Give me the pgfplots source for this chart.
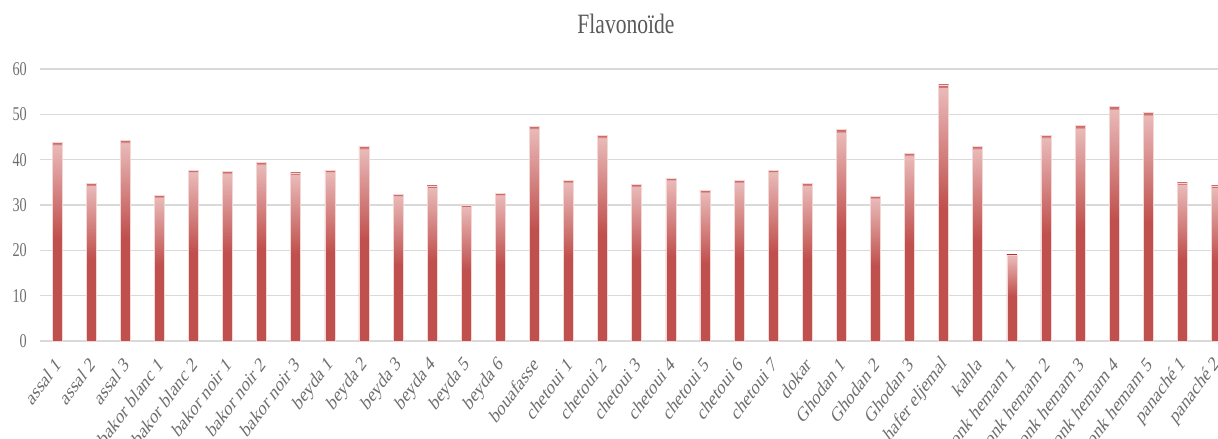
\documentclass[border=0pt]{standalone}
\usepackage{fontspec}
\setmainfont{Liberation Serif}
\usepackage{pgfplots}
\pgfplotsset{compat=1.18}

\definecolor{barred}{RGB}{192,80,77}
\definecolor{barpink}{RGB}{233,186,185}
\definecolor{barcap}{RGB}{205,108,106}
\definecolor{baredge}{RGB}{244,214,213}
\definecolor{gridgray}{RGB}{217,217,217}
\definecolor{titlegray}{RGB}{89,89,89}
\definecolor{tickgray}{RGB}{110,110,110}

% solid red in the lower half of each bar, fading to pale pink, thin darker cap on top
\pgfdeclareverticalshading{barshade}{100bp}{%
  color(0bp)=(barred); color(25bp)=(barred); color(51bp)=(barred);
  color(74.4bp)=(barpink); color(74.6bp)=(barcap); color(100bp)=(barcap)}

% each bar is its own plot so that the gradient spans that bar alone
\pgfplotsset{flavbar/.style={ybar, bar width=10pt, bar shift=0pt,
  shade, shading=barshade, draw=baredge, line width=0.5pt}}

\begin{document}
\begin{tikzpicture}
\begin{axis}[
  at={(0pt,0pt)}, anchor=south west,
  scale only axis, width=1193.5pt, height=272pt,
  xmin=-0.5, xmax=34.5, ymin=0, ymax=60,
  ytick={0,10,...,60},
  xtick={0,...,34},
  xticklabels={assal 1, assal 2, assal 3, bakor blanc 1, bakor blanc 2,
    bakor noir 1, bakor noir 2, bakor noir 3, beyda 1, beyda 2, beyda 3,
    beyda 4, beyda 5, beyda 6, bouafasse, chetoui 1, chetoui 2, chetoui 3,
    chetoui 4, chetoui 5, chetoui 6, chetoui 7, dokar, Ghodan 1, Ghodan 2,
    Ghodan 3, hafer eljemal, kahla, onk hemam 1, onk hemam 2, onk hemam 3,
    onk hemam 4, onk hemam 5, panaché 1, panaché 2},
  ymajorgrids,
  grid style={draw=gridgray, line width=1.5pt},
  axis line style={draw=none},
  major tick length=0pt,
  /pgf/number format/assume math mode=true,
  tick label style={text=tickgray},
  yticklabel style={font=\fontsize{19.5}{20}\selectfont,
    anchor=east, inner sep=0pt, xshift=-13pt, xscale=0.73},
  xticklabel style={font=\fontsize{21}{22}\selectfont,
    anchor=east, inner sep=0pt, xshift=1pt, yshift=-20pt,
    xscale=0.74, rotate=45},
  title={Flavonoïde},
  title style={at={(0.491,1)}, anchor=base, yshift=30pt, xscale=0.77,
    font=\fontsize{28}{30}\selectfont, text=titlegray},
]
\addplot[flavbar] coordinates {(0,43.8)};
\addplot[flavbar] coordinates {(1,34.7)};
\addplot[flavbar] coordinates {(2,44.3)};
\addplot[flavbar] coordinates {(3,32.1)};
\addplot[flavbar] coordinates {(4,37.7)};
\addplot[flavbar] coordinates {(5,37.4)};
\addplot[flavbar] coordinates {(6,39.4)};
\addplot[flavbar] coordinates {(7,37.1)};
\addplot[flavbar] coordinates {(8,37.7)};
\addplot[flavbar] coordinates {(9,42.9)};
\addplot[flavbar] coordinates {(10,32.4)};
\addplot[flavbar] coordinates {(11,34.2)};
\addplot[flavbar] coordinates {(12,30.0)};
\addplot[flavbar] coordinates {(13,32.6)};
\addplot[flavbar] coordinates {(14,47.4)};
\addplot[flavbar] coordinates {(15,35.4)};
\addplot[flavbar] coordinates {(16,45.4)};
\addplot[flavbar] coordinates {(17,34.5)};
\addplot[flavbar] coordinates {(18,35.9)};
\addplot[flavbar] coordinates {(19,33.2)};
\addplot[flavbar] coordinates {(20,35.4)};
\addplot[flavbar] coordinates {(21,37.7)};
\addplot[flavbar] coordinates {(22,34.7)};
\addplot[flavbar] coordinates {(23,46.6)};
\addplot[flavbar] coordinates {(24,31.9)};
\addplot[flavbar] coordinates {(25,41.4)};
\addplot[flavbar] coordinates {(26,56.5)};
\addplot[flavbar] coordinates {(27,42.9)};
\addplot[flavbar] coordinates {(28,19.0)};
\addplot[flavbar] coordinates {(29,45.4)};
\addplot[flavbar] coordinates {(30,47.5)};
\addplot[flavbar] coordinates {(31,51.7)};
\addplot[flavbar] coordinates {(32,50.4)};
\addplot[flavbar] coordinates {(33,34.9)};
\addplot[flavbar] coordinates {(34,34.2)};
\end{axis}
\pgfresetboundingbox
\useasboundingbox (-40pt,-98pt) rectangle (1178pt,341pt);
\end{tikzpicture}
\end{document}
